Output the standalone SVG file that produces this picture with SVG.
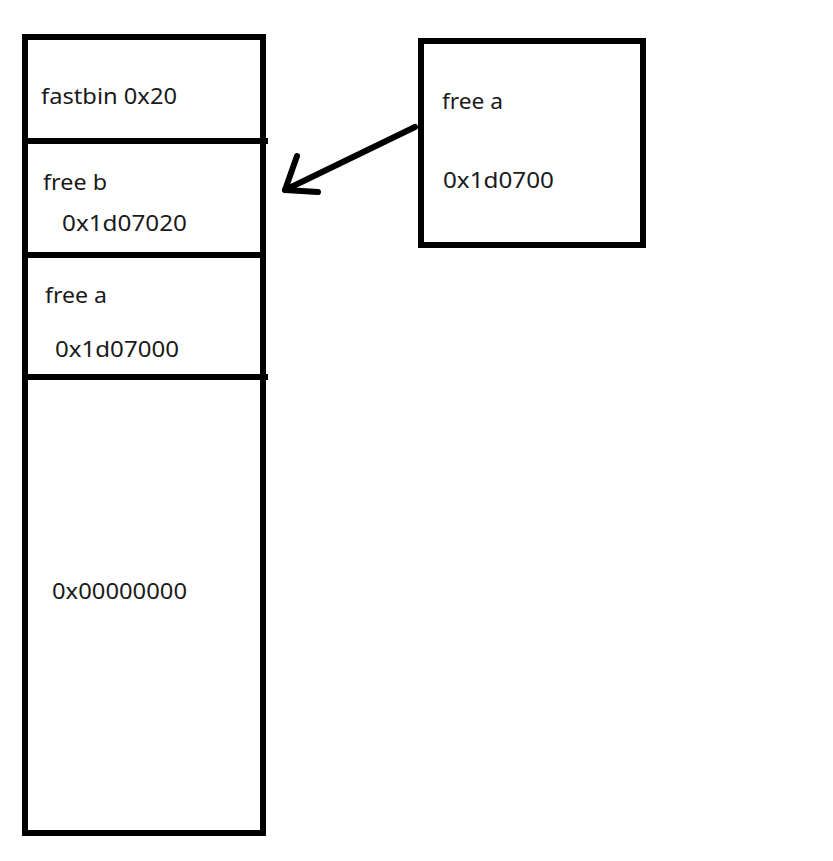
<svg xmlns="http://www.w3.org/2000/svg" width="833" height="861" viewBox="0 0 833 861">
<style>
.box{fill:none;stroke:#000;stroke-width:6}
.div{stroke:#000;stroke-width:6}
.arrow{fill:none;stroke:#000;stroke-width:6;stroke-linecap:round;stroke-linejoin:round}
text{font-family:"Noto Sans","Open Sans","DejaVu Sans",sans-serif;font-size:22px;fill:#1a1a1a}
</style>
<rect width="833" height="861" fill="#fff"/>
<g id="heap-column">
<rect class="box" x="25" y="37" width="238" height="796"/>
<line class="div" x1="25" y1="141" x2="268" y2="141"/>
<line class="div" x1="25" y1="255" x2="263" y2="255"/>
<line class="div" x1="25" y1="377" x2="268" y2="377"/>
</g>
<g id="fastbin">
<text x="41" y="104" textLength="136" lengthAdjust="spacingAndGlyphs">fastbin 0x20</text>
</g>
<g id="free-b">
<text x="43" y="190" textLength="64" lengthAdjust="spacingAndGlyphs">free b</text>
<text x="62" y="231" textLength="125" lengthAdjust="spacingAndGlyphs">0x1d07020</text>
</g>
<g id="free-a-left">
<text x="45" y="303" textLength="62" lengthAdjust="spacingAndGlyphs">free a</text>
<text x="55" y="357" textLength="124" lengthAdjust="spacingAndGlyphs">0x1d07000</text>
</g>
<g id="null-chunk">
<text x="52" y="599" textLength="135" lengthAdjust="spacingAndGlyphs">0x00000000</text>
</g>
<g id="free-a-right">
<rect class="box" x="421" y="41" width="222" height="204"/>
<text x="442" y="109" textLength="61" lengthAdjust="spacingAndGlyphs">free a</text>
<text x="443" y="188" textLength="111" lengthAdjust="spacingAndGlyphs">0x1d0700</text>
</g>
<g id="connectors">
<path class="arrow" d="M415,127 L285,190"/>
<path class="arrow" d="M297,156 L285,190 L318,192"/>
</g>
</svg>
